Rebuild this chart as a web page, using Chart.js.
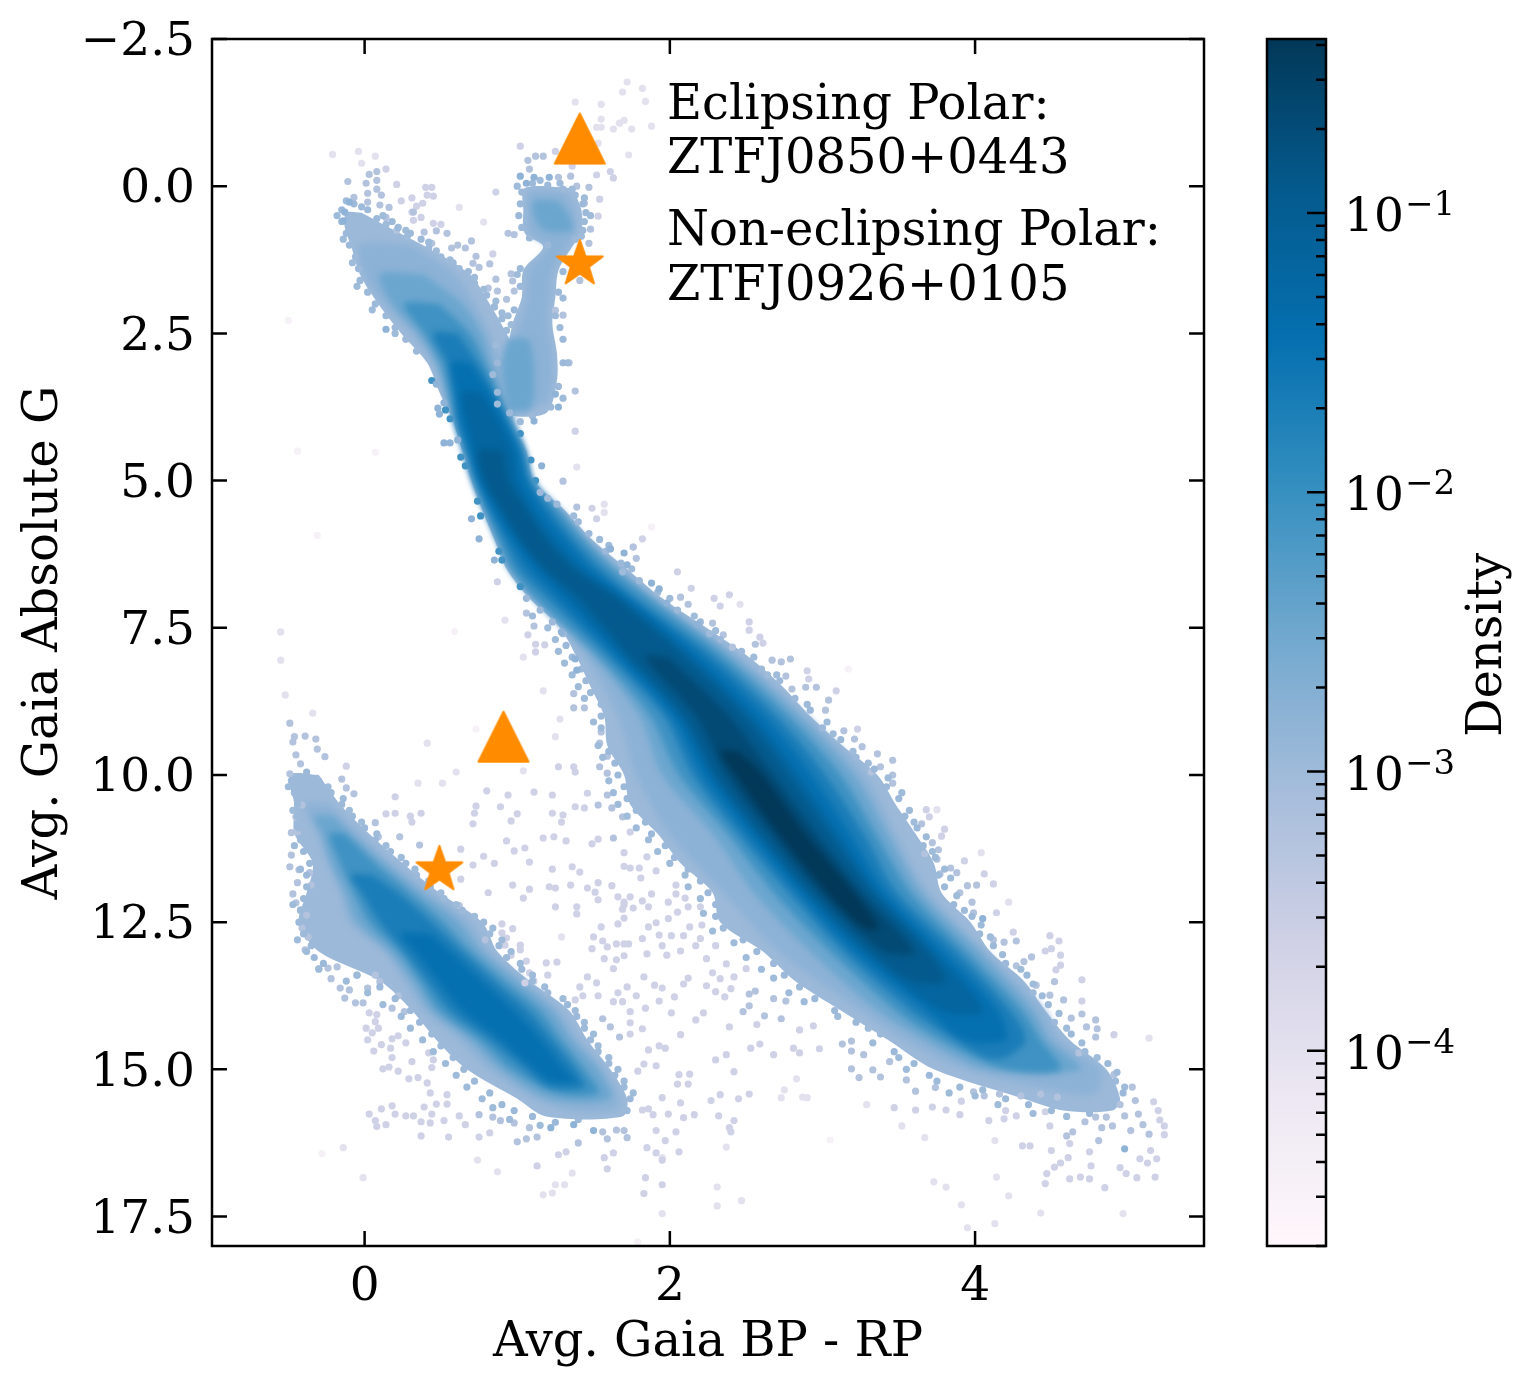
<!DOCTYPE html>
<html>
<head>
<meta charset="utf-8">
<title>Gaia colour magnitude diagram</title>
<script src="https://cdn.jsdelivr.net/npm/chart.js@4"></script>
<style>
html, body { margin: 0; background: #fff; }
#wrap { position: relative; width: 1532px; height: 1388px; }
canvas { position: absolute; left: 0; top: 0; }
</style>
</head>
<body>
<div id="wrap">
    <canvas id="cmd" width="1532" height="1388"></canvas>
    <canvas id="bar" width="1532" height="1388"></canvas>
</div>
<script>
const xTicks = [0, 2, 4];
const yTicks = [-2.5, 0, 2.5, 5, 7.5, 10, 12.5, 15, 17.5];
const densityTicks = [
    2e-5, 3e-5, 4e-5, 5e-5, 6e-5, 7e-5, 8e-5, 9e-5,
    1e-4, 2e-4, 3e-4, 4e-4, 5e-4, 6e-4, 7e-4, 8e-4, 9e-4,
    1e-3, 2e-3, 3e-3, 4e-3, 5e-3, 6e-3, 7e-3, 8e-3, 9e-3,
    1e-2, 2e-2, 3e-2, 4e-2, 5e-2, 6e-2, 7e-2, 8e-2, 9e-2,
    1e-1, 2e-1, 3e-1, 4e-1
];
const densityRange = [2e-5, 0.42];
const legendLines = ["Eclipsing Polar:", "ZTFJ0850+0443", "Non-eclipsing Polar:", "ZTFJ0926+0105"];

const eclipsing = [[1.41, -0.81], [0.91, 9.35]];
const nonEclipsing = [[1.41, 1.32], [0.49, 11.61]];

// density sections: [mag, left colour, right colour]
const msBand0 = [[0.45,-0.12,-0.02],[0.7,-0.13,0.16],[1,-0.09,0.38],[1.5,-0.03,0.69],[2,0.09,0.82],[2.5,0.24,0.93],[3,0.41,1.02],[3.5,0.49,1.02],[4,0.58,0.97],[4.5,0.64,1.06],[5,0.7,1.11],[5.5,0.77,1.31],[6,0.85,1.49],[6.5,0.93,1.72],[7,1.08,1.95],[7.5,1.28,2.24],[8,1.39,2.52],[8.5,1.48,2.74],[9,1.57,2.92],[9.5,1.59,3.13],[10,1.7,3.36],[10.5,1.74,3.48],[11,1.92,3.61],[11.5,2.07,3.73],[12,2.28,3.78],[12.5,2.33,3.97],[13,2.61,4.1],[13.5,2.82,4.32],[14,3.12,4.46],[14.5,3.43,4.62],[15,3.73,4.86],[15.5,4.32,4.95],[15.7,4.58,4.9]];
const msBand1 = [[1,-0.03,0.3],[1.5,0,0.59],[2,0.13,0.72],[2.5,0.31,0.82],[3,0.45,0.89],[3.5,0.53,0.95],[4,0.61,0.99],[4.5,0.67,1.05],[5,0.71,1.1],[5.5,0.8,1.23],[6,0.9,1.41],[6.5,1,1.61],[7,1.13,1.87],[8,1.45,2.46],[9,1.66,2.9],[10,1.78,3.28],[11,2,3.48],[12,2.35,3.7],[13,2.72,4.07],[14,3.25,4.46],[14.5,3.54,4.56],[15,3.93,4.82],[15.4,4.62,4.79]];
const msBand2 = [[1.5,0.1,0.39],[2,0.18,0.64],[2.5,0.35,0.77],[3,0.47,0.83],[3.5,0.53,0.9],[4,0.585,0.965],[4.5,0.645,1.055],[5,0.705,1.105],[5.5,0.78,1.29],[6,0.86,1.46],[6.5,0.945,1.67],[7,1.1,1.9],[8,1.5,2.42],[9,1.8,2.85],[10,1.95,3.21],[11,2.28,3.43],[12,2.55,3.65],[13,2.92,4.03],[14,3.36,4.38],[14.5,3.67,4.49],[15,4.07,4.69]];
const msBand3 = [[2,0.26,0.49],[2.5,0.39,0.69],[3,0.5,0.79],[3.5,0.55,0.87],[4,0.59,0.96],[4.5,0.65,1.05],[5,0.71,1.1],[5.5,0.79,1.27],[6,0.87,1.43],[6.5,0.96,1.62],[7,1.12,1.86],[8,1.54,2.36],[9,1.87,2.78],[10,2.06,3.12],[11,2.38,3.35],[12,2.68,3.58],[13,3.05,3.95],[14,3.48,4.31],[14.5,3.77,4.43],[15,4.2,4.56]];
const msBand4 = [[2.5,0.45,0.61],[3,0.54,0.74],[3.5,0.58,0.85],[4,0.61,0.94],[4.5,0.67,1.03],[5,0.73,1.08],[5.5,0.81,1.22],[6,0.91,1.37],[6.5,1.01,1.55],[7,1.2,1.78],[8,1.6,2.29],[9,1.96,2.7],[10,2.15,3.02],[11,2.45,3.27],[12,2.78,3.49],[13,3.14,3.88],[14,3.58,4.23],[14.5,3.87,4.33],[14.8,4.07,4.2]];
const msBand5 = [[3,0.57,0.69],[3.5,0.6,0.82],[4,0.63,0.92],[4.5,0.69,1.01],[5,0.75,1.06],[5.5,0.84,1.17],[6,0.95,1.32],[6.5,1.08,1.49],[7,1.27,1.73],[8,1.65,2.22],[9,2.01,2.62],[10,2.21,2.93],[11,2.51,3.18],[12,2.84,3.42],[13,3.2,3.8],[14,3.68,4.15],[14.5,3.93,4.2]];
const msBand6 = [[3.5,0.64,0.76],[4,0.67,0.88],[4.5,0.72,0.97],[5,0.77,1],[5.5,0.88,1.1],[6,1,1.24],[6.5,1.15,1.42],[7,1.34,1.69],[8,1.7,2.15],[9,2.06,2.54],[10,2.27,2.84],[11,2.57,3.1],[12,2.89,3.36],[13,3.27,3.73],[14,3.78,4.05]];
const msBand7 = [[4.5,0.75,0.91],[5,0.79,0.94],[5.5,0.9,1.06],[6,1.02,1.19],[6.5,1.18,1.37],[7,1.41,1.65],[8,1.74,2.1],[9,2.09,2.49],[10,2.3,2.78],[11,2.59,3.05],[12,2.92,3.33],[13,3.31,3.69],[13.5,3.58,3.8]];
const msBand8 = [[8,1.84,1.99],[9,2.17,2.39],[10,2.37,2.68],[11,2.66,2.96],[12,2.98,3.26],[13,3.4,3.6]];
const msBand9 = [[9.6,2.33,2.45],[10,2.43,2.61],[11,2.71,2.89],[12,3.03,3.21],[12.6,3.27,3.37]];

const giantBand0 = [[0.03,1.05,1.36],[0.4,1.04,1.42],[0.8,1.05,1.42],[1.03,1.17,1.36],[1.43,1.04,1.27],[1.88,1.03,1.25],[2.33,0.97,1.23],[2.84,0.93,1.26],[3.3,0.89,1.26],[3.85,0.93,1.19]];
const giantBand1 = [[0.1,1.08,1.31],[0.4,1.07,1.38],[0.8,1.08,1.38],[1.03,1.2,1.33],[1.43,1.08,1.23],[1.88,1.07,1.21],[2.33,1.02,1.2],[2.84,0.95,1.23],[3.3,0.92,1.23],[3.7,0.96,1.18]];
const clumpBand2 = [[0.25,1.11,1.27],[0.5,1.11,1.34],[0.75,1.18,1.36]];
const giantBand2 = [[2.6,0.95,1.08],[3,0.9,1.11],[3.5,0.92,1.11],[3.8,0.95,1.08]];

const wdBand0 = [[10,-0.49,-0.3],[10.5,-0.46,-0.16],[11,-0.46,0.03],[11.5,-0.34,0.25],[12,-0.38,0.49],[12.5,-0.43,0.77],[13,-0.3,0.87],[13.5,0.1,1.08],[14,0.31,1.34],[14.5,0.47,1.46],[15,0.67,1.61],[15.5,1,1.72],[15.8,1.19,1.69]];
const wdBand1 = [[10.5,-0.39,-0.23],[11,-0.31,-0.03],[11.5,-0.24,0.18],[12,-0.16,0.43],[12.5,-0.1,0.69],[13,0.13,0.82],[13.5,0.26,1.05],[14,0.39,1.28],[14.5,0.62,1.41],[15,0.82,1.57],[15.5,1.11,1.67],[15.7,1.34,1.64]];
const wdBand2 = [[10.7,-0.33,-0.2],[11,-0.28,-0.09],[11.5,-0.22,0.13],[12,-0.13,0.37],[12.5,-0.05,0.62],[13,0.16,0.77],[13.5,0.31,1],[14,0.44,1.23],[14.5,0.69,1.36],[15,0.89,1.53],[15.5,1.21,1.61]];
const wdBand3 = [[11,-0.23,-0.13],[11.5,-0.16,0.07],[12,-0.07,0.3],[12.5,0.03,0.52],[13,0.22,0.7],[13.5,0.36,0.92],[14,0.49,1.15],[14.5,0.75,1.29],[15,0.96,1.44],[15.4,1.25,1.53]];
const wdBand4 = [[11.7,-0.09,0.05],[12,-0.02,0.22],[12.5,0.1,0.44],[13,0.26,0.64],[13.5,0.41,0.85],[14,0.56,1.07],[14.5,0.82,1.23],[15,1.05,1.38],[15.3,1.21,1.44]];
const wdBand5 = [[12.7,0.24,0.43],[13,0.33,0.56],[13.5,0.48,0.77],[14,0.64,0.98],[14.5,0.89,1.16],[15,1.11,1.31],[15.2,1.21,1.38]];

// stars sitting on the rim of the dense clouds, as [mag, colour]
const rimStars = [[5.2,1.15],[5.4,1.26],[5.7,1.4],[5.9,1.47],[6.2,1.58],[6.4,1.68],[6.7,1.8],[6.9,1.92],[7.2,2.05],[7.4,2.2],[7.7,2.33],[7.9,2.47],[8.2,2.6],[8.4,2.72],[8.7,2.82],[8.9,2.92],[9.2,3],[9.4,3.12],[9.7,3.22],[9.9,3.34],[10.2,3.42],[10.4,3.5],[10.7,3.54],[10.9,3.62],[11.2,3.66],[11.4,3.74],[11.7,3.76],[11.9,3.8],[12.2,3.86],[12.4,3.98],[12.7,4.03],[12.9,4.12],[13.2,4.2],[13.4,4.34],[13.7,4.38],[13.9,4.48],[14.2,4.52],[14.4,4.63],[14.7,4.72],[14.9,4.87],[15.2,4.92],[15.4,4.97],[15.75,4.75],[15.7,4.5],[15.6,4.35],[15.5,4.2],[15.35,4.05],[15.3,3.9],[15.1,3.7],[14.9,3.6],[14.7,3.47],[14.4,3.38],[14.2,3.22],[14,3.08],[13.8,2.95],[13.6,2.85],[13.4,2.75],[13.2,2.68],[13,2.57],[12.8,2.48],[12.6,2.35],[12.4,2.3],[12.2,2.3],[12,2.25],[11.8,2.2],[11.6,2.12],[11.4,2.03],[11.2,1.97],[11,1.88],[10.8,1.84],[10.6,1.78],[10.4,1.72],[10.2,1.7],[10,1.66],[9.8,1.64],[9.6,1.6],[9.4,1.62],[9.2,1.55],[9,1.55],[8.8,1.55],[8.6,1.48],[8.4,1.45],[8.2,1.42],[8,1.36],[7.8,1.32],[7.6,1.3],[7.4,1.23],[7.2,1.15],[7,1.06],[2.8,0.34],[2.6,0.27],[2.4,0.2],[2.2,0.14],[2,0.07],[1.8,0.02],[1.6,-0.03],[1.4,-0.04],[1.2,-0.06],[1,-0.1],[0.8,-0.12],[0.6,-0.15],[0.4,-0.15],[0.3,-0.07],[0.4,0.02],[0.55,0.08],[0.6,0.18],[0.7,0.22],[0.8,0.3],[0.9,0.37],[1.05,0.42],[1.2,0.5],[1.3,0.58],[1.45,0.68],[1.65,0.72],[1.85,0.8],[2.05,0.85],[2.25,0.9],[2.45,0.93],[-0.05,1.1],[-0.02,1.2],[0.05,1.3],[0.15,1.38],[0.3,1.43],[0.45,1.45],[0.6,1.44],[0.75,1.43],[0.9,1.38],[0.1,1.03],[0.3,1.02],[0.5,1.01],[0.7,1.03],[0.88,1.08],[1,1.2],[1.4,1.02],[1.7,1.02],[2.1,0.98],[2.5,0.9],[3,0.87],[3.5,0.87],[3.85,0.95],[3.9,1.1],[3.75,1.22],[3.4,1.27],[3,1.3],[2.6,1.3],[2.2,1.25],[1.8,1.27],[1.45,1.3],[9.95,-0.38],[10.1,-0.3],[10.3,-0.22],[10.5,-0.15],[10.7,-0.08],[10.9,0],[11.1,0.07],[11.3,0.17],[11.5,0.27],[11.7,0.34],[11.9,0.43],[12.1,0.52],[12.3,0.64],[12.5,0.78],[12.7,0.82],[12.9,0.88],[13.1,0.93],[13.3,1.03],[13.5,1.1],[13.7,1.2],[13.9,1.33],[14.1,1.39],[14.3,1.44],[14.5,1.48],[14.7,1.53],[14.9,1.6],[15.1,1.64],[15.3,1.7],[15.5,1.74],[15.7,1.72],[15.85,1.4],[15.9,1.25],[15.8,1.1],[15.7,0.98],[15.6,0.9],[15.4,0.82],[15.2,0.72],[15,0.65],[14.8,0.58],[14.6,0.5],[14.4,0.44],[14.2,0.36],[14,0.3],[13.8,0.2],[13.6,0.1],[13.4,-0.05],[13.2,-0.27],[13.1,-0.33],[12.9,-0.35],[12.7,-0.4],[12.5,-0.43],[12.3,-0.42],[12.1,-0.4],[11.9,-0.38],[11.7,-0.38],[11.5,-0.36],[11.3,-0.4],[11.1,-0.42],[10.9,-0.43],[10.7,-0.44],[10.5,-0.44],[10.3,-0.46],[10.1,-0.48]];
const rimExtraStars = [[5.3,1.2],[5.6,1.37],[6,1.54],[6.1,1.6],[6.5,1.75],[6.55,1.69],[7,2],[7.3,2.16],[7.55,2.3],[7.6,2.26],[8,2.55],[8.3,2.7],[8.3,2.64],[8.8,2.9],[9.1,3.03],[9.3,3.07],[9.6,3.2],[9.8,3.3],[10.05,3.43],[10.3,3.52],[10.6,3.57],[10.8,3.6],[11.05,3.68],[11.3,3.72],[11.6,3.8],[11.75,3.84],[12.05,3.88],[12.3,3.93],[12.55,4.04],[12.75,4.1],[13.05,4.18],[13.3,4.3],[13.55,4.38],[13.75,4.44],[14.05,4.55],[14.3,4.6],[14.55,4.7],[14.8,4.8],[15.05,4.93],[15.3,4.98],[15.8,4.6],[15.75,4.38],[15.6,4.15],[15.45,4],[15.4,3.83],[15.2,3.75],[15,3.55],[14.8,3.5],[14.55,3.33],[14.3,3.3],[14.1,3.1],[13.85,2.88],[13.7,2.78],[13.45,2.68],[13.3,2.6],[13.1,2.5],[12.85,2.42],[12.65,2.28],[12.35,2.22],[12.1,2.2],[11.9,2.12],[11.7,2.1],[11.5,2],[11.3,1.92],[11.1,1.86],[10.9,1.78],[10.7,1.72],[10.5,1.66],[10.3,1.63],[10.1,1.6],[9.7,1.56],[9.5,1.53],[9.1,1.5],[8.7,1.44],[8.5,1.4],[8.3,1.36],[8.1,1.31],[7.9,1.27],[7.7,1.25],[7.5,1.2],[7.3,1.1],[2.5,0.2],[2.1,0.05],[1.7,-0.05],[1.3,-0.08],[0.9,-0.14],[0.5,-0.18],[0.25,-0.12],[0.35,-0.02],[0.5,0.12],[0.65,0.14],[0.75,0.27],[0.85,0.28],[0.95,0.42],[1.1,0.47],[1.25,0.56],[1.4,0.62],[1.55,0.72],[1.75,0.78],[1.95,0.86],[2.15,0.9],[2.35,0.96],[10.2,-0.24],[10.4,-0.14],[10.6,-0.1],[10.8,-0.02],[11,0.08],[11.2,0.14],[11.4,0.24],[11.6,0.33],[11.8,0.42],[12,0.5],[12.2,0.6],[12.4,0.72],[12.6,0.84],[12.8,0.9],[13,0.96],[13.2,1.02],[13.4,1.1],[13.6,1.18],[13.8,1.3],[14,1.38],[14.2,1.44],[14.4,1.5],[14.6,1.53],[14.8,1.6],[15,1.66],[15.2,1.7],[15.4,1.76],[15.95,1.15],[15.85,0.95],[15.65,0.84],[15.5,0.77],[15.3,0.67],[15.1,0.6],[14.9,0.53],[14.7,0.45],[14.5,0.38],[14.3,0.3],[14.1,0.24],[13.9,0.12],[13.7,0.02],[13.5,-0.12],[13.3,-0.3],[13,-0.38],[12.8,-0.44],[12.2,-0.47],[11.6,-0.42],[11.2,-0.46],[10.6,-0.47],[10.2,-0.5],[0,1],[-0.1,1.15],[-0.05,1.28],[0.05,1.36],[0.2,1.44],[0.5,1.48],[0.85,1.42],[1.5,1],[2.2,0.94],[2.7,0.86],[3.2,0.84],[3.7,0.87],[4,1.02],[3.6,1.3],[3,1.33],[2.4,1.28],[1.9,1.3],[1.2,1.42]];
const rimDarkStars = [[6.8,1.02],[6.35,0.9],[6.2,0.88],[5.6,0.76],[5.35,0.74],[4.75,0.66],[4.6,0.63],[3.95,0.56],[3.8,0.53],[3.3,0.44],[4.2,1.02],[4.65,1.09],[5,1.12]];

// single stars by how dense their surroundings are, as [colour, mag]
const midStars = [[1.16,4.75],[0.75,5.99],[0.7,5.65],[0.85,6.35],[1.61,6.16],[1.7,6.23],[1.72,6.43],[1.88,6.74],[1.93,6.84],[1.98,7.08],[2.18,7.44],[0.47,3.36],[0.52,3.68],[0.48,3.77],[0.49,3.87],[0.52,4.36],[0.56,4.36],[0.61,4.31],[1.11,3.99],[1.25,3.53],[1.27,3.75],[1.29,7.57],[1.38,8.03],[1.39,8.22],[1.22,15.99],[1.37,15.94],[1.5,16.04],[4.05,12.44],[-0.14,0.59],[-0.13,0.44],[-0.1,0.27],[1.06,-0.05],[1.02,-0.17],[1.11,-0.15],[1.21,-0.15],[0.14,2.43],[4.98,16.35]];
const periStars = [[1.3,5.01],[1.39,5.45],[1.61,6.16],[1.76,6.13],[1.78,6.32],[2.07,6.98],[2.12,7.1],[2.28,7.42],[2.35,7.62],[2.41,7.83],[2.56,7.78],[2.67,8.05],[2.73,8.08],[2.79,8.03],[2.76,8.32],[2.8,8.54],[2.89,8.51],[2.96,8.51],[3.04,8.73],[3.02,8.9],[3.14,9.25],[3.26,9.52],[3.21,9.39],[3.36,9.64],[3.46,9.75],[3.38,9.86],[3.46,10],[3.32,9.95],[3.46,10.14],[1.06,7.25],[1.11,7.47],[1.37,8.62],[1.37,8.86],[1.44,8.86],[1.55,9.27],[1.54,9.46],[1.59,9.68],[1.54,9.86],[1.59,9.97],[1.59,10.34],[1.53,10.51],[1.62,10.56],[1.69,10.71],[1.63,11.07],[3.65,10.83],[3.72,11.15],[3.76,11.27],[3.67,11.34],[3.75,11.43],[3.84,11.58],[3.88,11.66],[3.77,11.68],[4.01,11.87],[3.95,11.88],[3.9,12],[3.98,12.16],[3.99,12.34],[4.12,12.8],[4.19,12.84],[4.27,12.82],[4.37,13.09],[4.32,13.17],[4.27,13.24],[4.52,13.51],[4.4,13.57],[4.49,13.74],[4.58,13.82],[4.63,14.13],[4.7,14.06],[4.79,14.16],[4.73,14.28],[4.8,14.31],[4.79,14.45],[4.68,14.72],[4.91,15.09],[5.03,15.3],[5.05,15.53],[5.07,15.76],[4.95,15.6],[4.98,15.79],[4.9,15.96],[5.02,16.04],[5.1,15.94],[5.14,16.1],[4.86,15.81],[4.79,15.81],[4.72,15.89],[4.83,15.99],[4.64,16.06],[4.6,16.13],[4.81,16.21],[3.55,15.18],[3.74,15.31],[3.61,15.37],[3.99,15.38],[4.06,15.45],[4.16,15.42],[4.3,15.45],[4.43,15.42],[4.54,15.47],[3.38,15.13],[3.24,15.14],[3.19,14.99],[3.33,15.01],[3.44,14.87],[3.27,14.75],[3.19,14.69],[3.13,14.57],[3.19,14.52],[2.73,14.14],[2.62,14.09],[2.48,14.02],[2.52,13.92],[2.76,13.84],[2.68,13.8],[2.56,13.67],[2.52,13.72],[-0.49,9.12],[-0.46,9.35],[-0.47,9.44],[-0.39,9.34],[-0.32,9.39],[-0.45,9.66],[-0.31,9.56],[-0.26,9.69],[-0.42,9.81],[-0.49,9.98],[-0.15,10.07],[-0.12,10.22],[-0.07,10.32],[0.07,10.81],[0.09,11.05],[0.23,11.05],[0.36,11.19],[-0.48,10.98],[-0.44,10.97],[-0.45,10.71],[-0.41,10.51],[-0.48,11.36],[-0.49,11.56],[-0.43,11.61],[-0.36,11.66],[-0.44,11.83],[-0.47,12.02],[-0.45,12.17],[-0.42,12.29],[-0.35,11.87],[-0.38,12.38],[-0.41,12.6],[-0.37,12.75],[-0.39,12.97],[-0.3,13.29],[-0.24,13.28],[-0.18,13.26],[-0.22,13.46],[-0.16,13.62],[-0.13,13.79],[-0.06,13.87],[-0.01,13.87],[-0.1,13.65],[0.02,13.62],[-0.05,13.4],[0.07,13.4],[0.1,13.51],[0.22,13.75],[0.18,13.96],[0.26,14.02],[0.62,12.22],[0.79,12.8],[1.56,14.14],[1.61,14.28],[1.67,14.45],[0.75,15.77],[0.84,15.81],[0.89,15.87],[0.98,15.91],[1,16.23],[1.06,16.18],[1.13,16.15],[1.08,15.99],[1.56,16.06],[1.59,16.18],[1.4,16.25],[1.65,16.03],[1.72,16.16],[1.7,16.04],[0.32,0.44],[0.44,0.97],[0.57,1.05],[0.61,1],[0.7,0.93],[0.66,1.05],[0.73,1.19],[0.71,1.31],[0.75,1.38],[0.82,1.32],[0.96,1.49],[0.86,1.58],[0.97,1.61],[0.81,1.73],[0.87,1.78],[0.98,1.78],[0.93,1.92],[0.85,2.05],[0.94,0.8],[0.98,0.82],[0.54,0.8],[0.47,0.76],[0.39,0.78],[0.02,0.27],[0.1,0.32],[0.16,0.36],[0.14,0.53],[0.21,0.75],[-0.07,0.19],[1.07,-0.44],[1.08,-0.29],[1.12,-0.51],[1.17,-0.51],[1.27,-0.15],[1.35,-0.17],[1.39,0],[1.47,0.02],[1.44,0.29],[1.48,0.73],[1.47,0.97],[1.41,1.6],[1.25,2.11],[1.3,2.19],[1.34,3],[1.38,3.48],[0.08,0.05],[0.02,0.12],[0.11,0.15],[0.01,-0.05],[0.08,-0.1],[-0.11,-0.08],[0.03,-0.2],[0.08,-0.25]];
const lavStars = [[1.49,5.47],[1.52,5.65],[1.82,5.99],[1.76,6.13],[2.05,6.55],[2.14,6.83],[2.29,7],[2.39,6.94],[2.33,7.13],[2.52,7.4],[2.52,7.54],[2.59,7.66],[2.61,7.76],[2.9,8.23],[2.91,8.37],[3.09,8.57],[3.23,9.22],[0.87,6.72],[1.07,7.62],[1.12,7.78],[1.18,7.79],[1.12,7.91],[1.27,9.86],[1.37,9.86],[1.38,9.95],[0.8,10.27],[0.94,10.34],[1.11,10.29],[1.23,10.34],[1.46,10.31],[0.73,10.53],[0.72,10.65],[0.89,10.54],[1,10.66],[0.96,10.78],[0.71,10.83],[1.23,10.65],[1.3,10.68],[1.29,10.8],[1.38,10.54],[1.44,10.56],[0.93,11.12],[1.17,11.07],[1.24,11.05],[1.32,11.12],[1.53,11.09],[1.49,11.17],[3.68,10.59],[3.7,10.71],[3.8,10.92],[3.78,11.04],[3.93,11.46],[4.06,11.68],[4.12,11.85],[4.14,12.34],[4.25,12.67],[4.49,12.73],[4.55,12.82],[4.46,12.99],[4.5,12.95],[4.56,13.06],[4.56,13.23],[4.53,13.31],[4.7,13.48],[4.7,13.84],[4.91,14.41],[5.17,15.55],[5.2,15.7],[5.21,15.86],[5.24,15.96],[5.24,16.11],[5.15,16.38],[5.19,16.52],[5.08,16.52],[5.13,16.59],[4.95,16.67],[4.99,16.77],[5.06,16.84],[5.18,16.83],[4.85,17.01],[4.76,16.64],[4.75,16.86],[4.69,16.83],[4.62,16.86],[4.75,16.4],[4.62,16.26],[4.5,16.38],[4.61,16.5],[4.56,16.59],[4.52,16.66],[4.47,16.77],[4.46,16.94],[4.31,16.3],[4.36,16.3],[4.49,15.96],[4.46,15.72],[4.27,15.79],[4.2,15.7],[4.19,15.84],[4.09,15.87],[3.9,15.77],[3.91,15.54],[3.81,15.69],[3.72,15.64],[3.61,15.69],[3.47,15.65],[2.98,14.65],[2.85,14.72],[2.81,14.64],[2.68,14.75],[2.94,14.26],[2.85,14.33],[2.59,14.57],[2.53,14.64],[2.57,14.24],[2.39,14.28],[2.22,14.04],[2.17,14.16],[2.07,14.41],[2.01,14.04],[1.93,13.84],[2.03,13.77],[1.95,13.62],[1.9,13.57],[1.83,13.43],[2.09,13.55],[2.12,13.45],[2.24,13.58],[2.3,13.68],[2.36,13.77],[2.4,13.63],[2.28,13.36],[2.33,13.46],[2.42,13.43],[2.5,13.29],[2.24,13.12],[2.37,13.21],[2.3,12.9],[2.17,12.9],[2.07,12.99],[1.98,13.06],[1.85,13.04],[1.95,12.9],[1.82,12.78],[1.7,13.07],[1.73,12.87],[1.93,12.72],[2.01,12.73],[2.09,12.73],[2.2,12.78],[2.13,12.58],[1.86,12.58],[1.91,12.51],[1.99,12.44],[1.99,12.16],[2.05,12.33],[2.1,12.09],[2.12,12.24],[2.2,12.24],[2.21,12.55],[2.04,11.87],[2.04,12.02],[1.88,12.02],[1.82,12.14],[1.86,12.24],[1.74,12.07],[1.76,12.26],[1.7,12.21],[1.7,12.43],[1.81,11.75],[1.91,11.63],[1.8,11.58],[1.74,11.58],[1.7,11.55],[1.85,11.39],[1.7,11.32],[1.74,10.97],[1.78,13.75],[1.72,13.6],[1.84,13.96],[1.74,14.02],[1.74,14.21],[1.82,14.31],[1.74,14.4],[1.93,14.6],[1.86,14.67],[1.97,14.64],[1.83,14.91],[1.91,14.94],[1.79,15.03],[2.06,15.09],[2.13,15.08],[2.05,15.25],[2.12,15.25],[2.3,14.84],[2.37,14.75],[2.42,15.04],[2.33,15.43],[2.27,15.53],[2.45,15.5],[2.52,15.42],[1.95,15.48],[2.07,15.57],[1.82,15.69],[1.86,15.67],[1.99,15.76],[1.89,15.77],[2.09,15.82],[2.16,15.77],[2.32,15.79],[2.42,15.87],[2.39,15.99],[2.4,16.06],[1.91,16.04],[2.04,16.06],[1.97,16.21],[1.85,16.33],[1.95,16.54],[2.06,16.4],[1.91,16.42],[1.84,16.84],[1.95,16.96],[1.83,17.11],[0.2,10.37],[0.14,10.66],[0.2,10.65],[0.3,10.7],[0.31,10.8],[0.37,10.65],[-0.12,9.85],[0.03,14.04],[0.08,14.07],[0.07,14.19],[0.01,14.3],[0.09,14.3],[0.05,14.38],[0.02,14.5],[0.22,14.43],[0.18,14.48],[0.27,14.55],[0.11,14.58],[0.06,14.69],[0.17,14.64],[0.18,14.8],[0.31,14.87],[0.22,15.03],[0.16,14.96],[0.12,14.99],[0.29,15.16],[0.35,15.14],[0.42,14.72],[0.45,14.84],[0.44,14.97],[0.41,15.23],[0.43,15.4],[0.39,15.64],[0.47,15.59],[0.54,15.59],[0.54,15.43],[0.44,15.76],[0.32,15.79],[0.27,15.79],[0.2,15.76],[0.11,15.67],[0.18,15.62],[0.03,15.76],[0.07,15.87],[0.14,15.94],[0.08,15.97],[0.37,15.89],[0.43,15.91],[0.52,15.87],[0.62,15.79],[0.66,15.94],[0.37,16.13],[0.55,16.15],[0.75,16.15],[0.82,16.08],[1.13,16.64],[1.27,16.45],[1.32,16.4],[1.57,16.5],[1.63,16.42],[1.59,16.69],[0.98,11.29],[1.05,11.24],[0.78,11.38],[0.85,11.5],[0.71,11.53],[0.63,11.26],[0.63,11.77],[1.08,11.48],[1.23,11.6],[1.36,11.56],[1.41,11.65],[1.35,11.87],[0.97,11.87],[1.08,11.94],[0.81,12],[1.04,12.09],[1.21,11.9],[1.25,11.92],[1.25,12.24],[1.39,12.24],[1.39,12.36],[1.46,11.92],[1.51,11.99],[1.53,12.12],[1.53,11.83],[1.62,11.88],[1.66,12.07],[1.7,12.16],[1.69,12.28],[1.55,12.58],[1.66,12.53],[1.5,12.75],[1.56,12.82],[1.65,12.87],[1.7,12.87],[1.59,12.92],[1.49,12.95],[1.57,13.12],[1.65,13.14],[1.63,13.29],[1.46,13.43],[1.52,13.53],[1.41,13.6],[1.43,13.75],[1.38,13.82],[1.53,13.75],[1.66,13.7],[1.63,13.85],[1.69,13.85],[1.19,13.19],[1.26,13.18],[1.2,13.4],[1.02,12.89],[1.02,12.97],[0.96,13.06],[0.9,12.53],[0.97,12.61],[0.9,12.68],[0.93,12.77],[0.92,12.89],[1.06,13.16],[1.08,13.36],[1.11,13.5],[1.05,13.53],[0.86,0.1],[0.4,0.02],[0.44,0.02],[0.41,0.15],[0.45,0.17],[0.31,0.2],[0.24,0.25],[0.38,0.29],[0.34,0.34],[0.31,0.44],[0.37,0.53],[0.32,0.58],[0.45,0.63],[0.5,0.65],[0.14,-0.29],[0.21,-0.03],[1.02,-0.68],[1.25,-0.59],[1.61,-0.25],[1.52,-0.19],[1.63,-0.14],[1.54,0.22],[1.53,0.51],[1.36,-0.34],[0.84,1.15],[1.38,4.16]];
const faintStars = [[-0.21,-0.54],[-0.04,-0.59],[0.07,-0.51],[-0.02,-0.39],[0.62,0.36],[0.78,0.61],[1.72,-1.77],[1.82,-1.66],[1.69,-1.6],[1.84,-1.44],[1.38,-1.43],[1.55,-1.39],[1.55,-1.14],[1.67,-1.07],[1.7,-1.12],[1.88,-1.02],[1.52,-1],[1.55,-1],[1.63,-0.97],[1.75,-0.97],[1.53,-0.73],[1.73,-0.53],[1.39,4.77],[1.57,5.4],[1.57,5.54],[2.46,7.1],[0.92,7.37],[1.04,8],[1.17,8.57],[1.28,9.05],[1.25,9.35],[1.04,9.93],[0.6,9.95],[0.41,9.46],[0.51,10.14],[0.35,10.14],[3.75,10.59],[4.04,11.32],[4.22,12.16],[3.29,15.6],[3.52,15.96],[3.67,16.16],[4.13,16.21],[3.73,16.91],[3.81,17],[3.91,17.3],[3.95,17.69],[4.14,16.83],[4.22,17.15],[4.13,17.62],[4.43,17.44],[4.97,17.45],[5.14,14.47],[2.75,15.35],[2.87,15.47],[2.9,15.48],[2.73,15.48],[2.83,15.16],[2.37,16.32],[2.31,17],[1.95,17.45],[2.31,17.32],[2.47,17.23],[-0.14,16.33],[-0.01,16.84],[0.74,16.54],[0.87,16.74],[1.36,16.76],[1.95,16.5],[1.25,16.96],[1.31,16.96],[1.23,17.1],[1.17,17.13],[1.29,12.75],[-0.34,8.95],[-0.55,7.57],[-0.55,8.05],[-0.52,8.64]];
const palestStars = [[-0.5,2.28],[-0.44,4.5],[0.07,4.52],[1.88,5.79],[3.17,8.2],[0.59,7.56],[0.73,9.22],[3.05,16.2],[1.79,17.93],[-0.28,16.43],[-0.31,5.93]];

function flip(list) {
    return list.map(p => [p[1], p[0]]);
}

// draw order runs from the lightest level up to the core
const bandLevels = [
    { color: "#9cb9d9", sets: [msBand0, giantBand0, wdBand0] },
    { color: "#8cb2d6", sets: [msBand1, giantBand1, wdBand1] },
    { color: "#6ba6cf", sets: [msBand2, clumpBand2, giantBand2, wdBand2] },
    { color: "#3f92c3", sets: [msBand3, wdBand3] },
    { color: "#1b7db8", sets: [msBand4, wdBand4] },
    { color: "#0570b0", sets: [msBand5, wdBand5] },
    { color: "#04659f", sets: [msBand6] },
    { color: "#045a8d", sets: [msBand7] },
    { color: "#034a75", sets: [msBand8] },
    { color: "#023858", sets: [msBand9] }
];
const starLevels = [
    { color: "#f6f0f7", data: palestStars },
    { color: "#e3e1ee", data: faintStars },
    { color: "#cfd1e6", data: lavStars },
    { color: "#b3c3de", data: periStars },
    { color: "#9fbbda", data: flip(rimExtraStars) },
    { color: "#9cb9d9", data: flip(rimStars) },
    { color: "#3f92c3", data: flip(rimDarkStars) },
    { color: "#8fb3d6", data: midStars }
];
const pubu = ["#fff7fb", "#ece7f2", "#d0d1e6", "#a6bddb", "#74a9cf", "#3690c0", "#0570b0", "#045a8d", "#023858"];

const serif = "'DejaVu Serif'";
const tickSize = 47;
const labelSize = 48;
const orange = "#ff8c00";

function outline(rows) {
    let right = rows.map(r => [r[2], r[0]]);
    let left = rows.map(r => [r[1], r[0]]).reverse();
    let pts = right.concat(left);
    pts.push(pts[0]);
    return pts;
}

function makeTriangle() {
    let c = document.createElement("canvas");
    c.width = 56; c.height = 56;
    let g = c.getContext("2d");
    g.fillStyle = orange; g.strokeStyle = orange; g.lineWidth = 2; g.lineJoin = "round";
    g.beginPath(); g.moveTo(28, 3); g.lineTo(53, 53); g.lineTo(3, 53); g.closePath();
    g.fill(); g.stroke();
    return c;
}

function makeStar() {
    let c = document.createElement("canvas");
    c.width = 54; c.height = 54;
    let g = c.getContext("2d");
    g.fillStyle = orange; g.strokeStyle = orange; g.lineWidth = 2; g.lineJoin = "round";
    g.beginPath();
    for (let i = 0; i < 10; i++) {
        let r = i % 2 ? 9.6 : 24;
        let a = -Math.PI / 2 + i * Math.PI / 5;
        let x = 27 + r * Math.cos(a), y = 27 + r * Math.sin(a);
        if (i) g.lineTo(x, y); else g.moveTo(x, y);
    }
    g.closePath(); g.fill(); g.stroke();
    return c;
}

let datasets = [];
bandLevels.forEach(level => {
    level.sets.forEach(rows => {
        datasets.push({
            data: outline(rows), showLine: true, fill: "shape", tension: 0.3,
            borderWidth: 0, borderColor: "transparent", backgroundColor: level.color,
            pointRadius: 0
        });
    });
});
const lastBand = datasets.length - 1;
const firstLevelCount = bandLevels[0].sets.length;
starLevels.forEach(level => {
    datasets.push({ data: level.data, pointRadius: 3.6, backgroundColor: level.color, borderWidth: 0 });
});
datasets.push({ data: eclipsing, pointStyle: makeTriangle(), pointRadius: 28, backgroundColor: orange });
datasets.push({ data: nonEclipsing, pointStyle: makeStar(), pointRadius: 27, backgroundColor: orange });
datasets.forEach((d, i) => { d.order = datasets.length - i; });

// outer level stays crisp, inner levels are softened into each other
const softBands = {
    id: "softBands",
    afterDatasetDraw(chart, args) {
        if (args.index === firstLevelCount - 1) chart.ctx.filter = "blur(3px)";
        if (args.index === lastBand) chart.ctx.filter = "none";
    }
};

const frame = {
    id: "frame",
    afterDraw(chart) {
        let ctx = chart.ctx, a = chart.chartArea, sx = chart.scales.x, sy = chart.scales.y;
        ctx.save();
        ctx.strokeStyle = "#000";
        ctx.lineWidth = 2.5;
        ctx.strokeRect(a.left, a.top, a.right - a.left, a.bottom - a.top);
        ctx.beginPath();
        xTicks.forEach(v => {
            let p = sx.getPixelForValue(v);
            ctx.moveTo(p, a.top); ctx.lineTo(p, a.top + 15);
            ctx.moveTo(p, a.bottom); ctx.lineTo(p, a.bottom - 15);
        });
        yTicks.forEach(v => {
            let p = sy.getPixelForValue(v);
            ctx.moveTo(a.left, p); ctx.lineTo(a.left + 15, p);
            ctx.moveTo(a.right, p); ctx.lineTo(a.right - 15, p);
        });
        ctx.stroke();
        ctx.fillStyle = "#000";
        ctx.font = labelSize + "px " + serif;
        ctx.textBaseline = "middle";
        let ys = [107, 161, 233, 288];
        legendLines.forEach((t, i) => ctx.fillText(t, 667, ys[i]));
        ctx.restore();
    }
};

new Chart(document.getElementById("cmd"), {
    type: "scatter",
    data: { datasets },
    plugins: [softBands, frame],
    options: {
        responsive: false,
        animation: false,
        layout: { padding: { top: 39, right: 328, left: 0, bottom: 0 } },
        plugins: { legend: { display: false }, tooltip: { enabled: false } },
        scales: {
            x: {
                type: "linear", min: -1, max: 5.5,
                grid: { display: false }, border: { display: false },
                afterBuildTicks: s => { s.ticks = xTicks.map(value => ({ value })); },
                afterFit: s => { s.height = 142; s.paddingLeft = 0; s.paddingRight = 0; },
                ticks: { color: "#000", font: { family: serif, size: tickSize }, padding: 6, maxRotation: 0, autoSkip: false },
                title: { display: true, text: "Avg. Gaia BP - RP", color: "#000", font: { family: serif, size: labelSize }, padding: { top: 6, bottom: 16 } }
            },
            y: {
                type: "linear", min: -2.5, max: 18, reverse: true,
                grid: { display: false }, border: { display: false },
                afterBuildTicks: s => { s.ticks = yTicks.map(value => ({ value })); },
                afterFit: s => { s.width = 212; s.paddingTop = 0; s.paddingBottom = 0; },
                ticks: {
                    color: "#000", font: { family: serif, size: tickSize }, padding: 9, labelOffset: 4, autoSkip: false,
                    callback: v => v.toFixed(1).replace("-", "\u2212")
                },
                title: { display: true, text: "Avg. Gaia Absolute G", color: "#000", font: { family: serif, size: labelSize }, padding: { top: 16, bottom: 0 } }
            }
        }
    }
});

function isDecade(v) {
    let e = Math.log10(v);
    return Math.abs(e - Math.round(e)) < 1e-6;
}

const barFrame = {
    id: "barFrame",
    afterDraw(chart) {
        let ctx = chart.ctx, a = chart.chartArea, sy = chart.scales.y;
        ctx.save();
        ctx.strokeStyle = "#000";
        ctx.lineWidth = 2.5;
        ctx.strokeRect(a.left, a.top, a.right - a.left, a.bottom - a.top);
        ctx.beginPath();
        densityTicks.forEach(v => {
            let p = sy.getPixelForValue(v);
            ctx.moveTo(a.right, p); ctx.lineTo(a.right - (isDecade(v) ? 19 : 10), p);
        });
        ctx.stroke();
        ctx.fillStyle = "#000";
        ctx.textBaseline = "alphabetic";
        densityTicks.filter(isDecade).forEach(v => {
            let p = sy.getPixelForValue(v);
            ctx.font = tickSize + "px " + serif;
            ctx.fillText("10", 1344, p + 18);
            ctx.font = "34px " + serif;
            ctx.fillText("\u2212" + Math.round(-Math.log10(v)), 1405, p + 2);
        });
        ctx.translate(1489, 645);
        ctx.rotate(-Math.PI / 2);
        ctx.font = labelSize + "px " + serif;
        ctx.textAlign = "center";
        ctx.textBaseline = "middle";
        ctx.fillText("Density", 0, 0);
        ctx.restore();
    }
};

new Chart(document.getElementById("bar"), {
    type: "bar",
    data: {
        labels: ["Density"],
        datasets: [{
            data: [densityRange],
            barPercentage: 1,
            categoryPercentage: 1,
            backgroundColor: ctx => {
                let a = ctx.chart.chartArea;
                if (!a) return pubu[4];
                let g = ctx.chart.ctx.createLinearGradient(0, a.bottom, 0, a.top);
                pubu.forEach((c, i) => g.addColorStop(i / (pubu.length - 1), c));
                return g;
            }
        }]
    },
    plugins: [barFrame],
    options: {
        responsive: false,
        animation: false,
        layout: { padding: { left: 1267, top: 39, bottom: 142, right: 0 } },
        plugins: { legend: { display: false }, tooltip: { enabled: false } },
        scales: {
            x: { display: false },
            y: {
                type: "logarithmic", position: "right", min: densityRange[0], max: densityRange[1],
                grid: { display: false }, border: { display: false },
                afterBuildTicks: s => { s.ticks = densityTicks.map(value => ({ value })); },
                afterFit: s => { s.width = 206; s.paddingTop = 0; s.paddingBottom = 0; },
                ticks: { display: false }
            }
        }
    }
});
</script>
</body>
</html>
